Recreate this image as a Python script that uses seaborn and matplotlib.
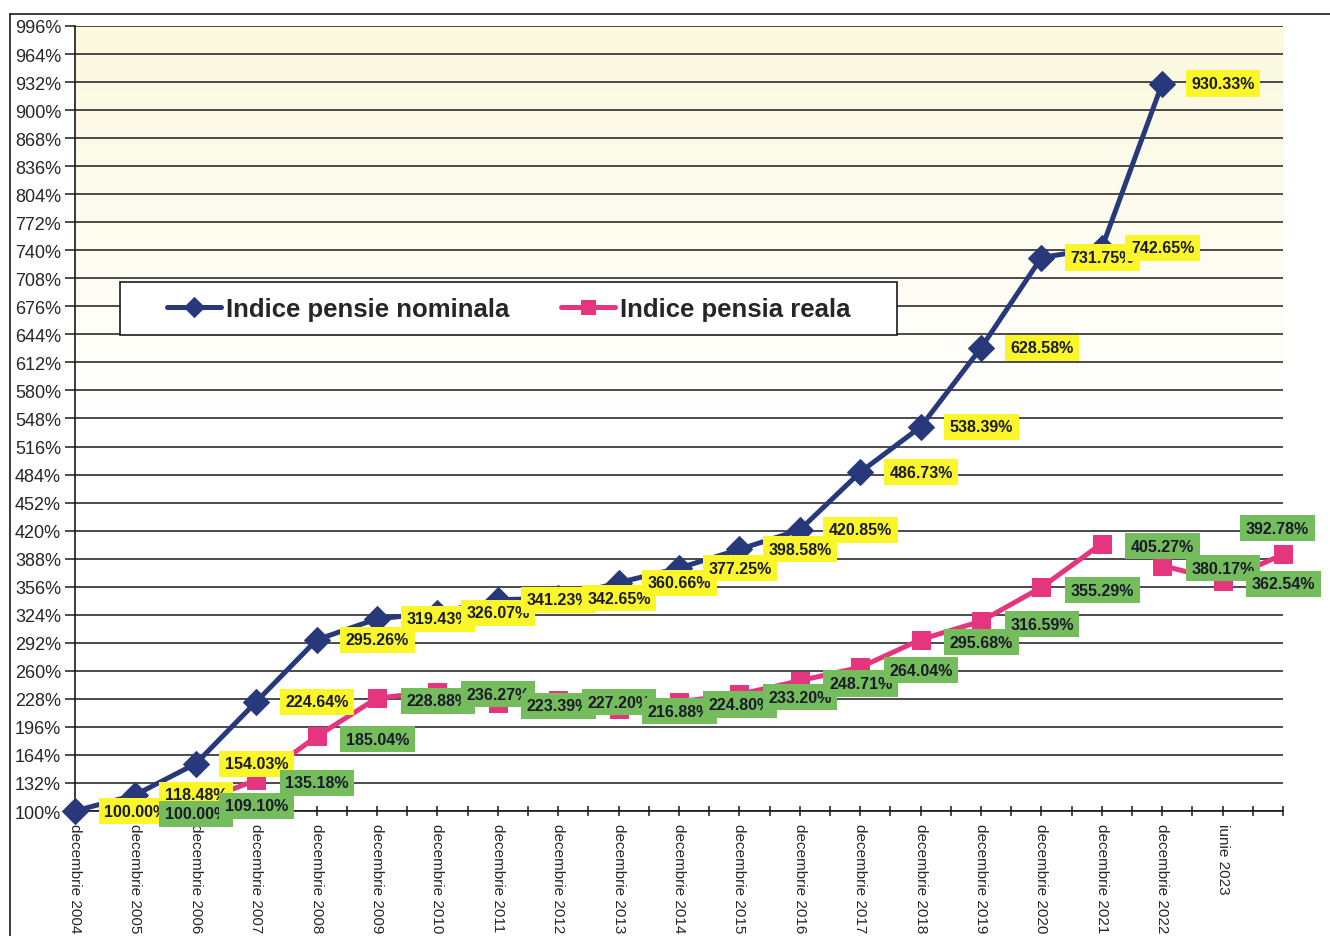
import matplotlib
matplotlib.use("Agg")
import matplotlib.pyplot as plt
import numpy as np
import seaborn as sns
from matplotlib.colors import LinearSegmentedColormap
from matplotlib.lines import Line2D
from matplotlib.patches import Rectangle
from matplotlib.ticker import FuncFormatter

# ── Data ─────────────────────────────────────────────────────────────────────

categories = [f"decembrie {y}" for y in range(2004, 2023)] + ["iunie 2023", ""]

nominal = [100.00, 118.48, 154.03, 224.64, 295.26, 319.43, 326.07, 341.23,
           342.65, 360.66, 377.25, 398.58, 420.85, 486.73, 538.39, 628.58,
           731.75, 742.65, 930.33]
nominal_x = list(range(len(nominal)))

real = [100.00, 109.10, 135.18, 185.04, 228.88, 236.27, 223.39, 227.20,
        216.88, 224.80, 233.20, 248.71, 264.04, 295.68, 316.59, 355.29,
        405.27, 380.17, 362.54, 392.78]
real_x = list(range(1, len(real) + 1))
real_break = 17   # line is not joined between 405.27% and 380.17%

y_ticks = list(range(100, 997, 32))

NAVY = "#27397A"
PINK = "#E5357F"
YELLOW = "#FAF62A"
GREEN = "#74BC5C"
TXT = "#1b1b2b"

# ── Style ────────────────────────────────────────────────────────────────────

sns.set_style("white")
plt.rcParams["font.family"] = ["Liberation Sans", "DejaVu Sans"]

fig = plt.figure(figsize=(13.3, 9.37), dpi=100)
ax = fig.add_axes([0.0564, 0.1334, 0.9083, 0.8378])

# plot area fill: pale yellow at the top, fading to white
grad = np.linspace(0, 1, 256).reshape(-1, 1)
bg = LinearSegmentedColormap.from_list(
    "bg", [(0, "#FFFFFF"), (0.5, "#FFFFFF"), (1, "#FCF9DE")])
ax.imshow(grad, extent=[0, 1, 0, 1], transform=ax.transAxes, origin="lower",
          aspect="auto", cmap=bg, zorder=0)

# ── Lines ────────────────────────────────────────────────────────────────────

line_kw = dict(linewidth=3.6, markersize=13, clip_on=False)

sns.lineplot(x=real_x[:real_break], y=real[:real_break], ax=ax, color=PINK,
             marker="s", markeredgecolor=PINK, label="Indice pensia reala",
             zorder=3, **line_kw)
sns.lineplot(x=real_x[real_break:], y=real[real_break:], ax=ax, color=PINK,
             marker="s", markeredgecolor=PINK, zorder=3, legend=False,
             **line_kw)
sns.lineplot(x=nominal_x, y=nominal, ax=ax, color=NAVY, marker="D",
             markeredgecolor=NAVY, label="Indice pensie nominala", zorder=4,
             **line_kw)

# ── Data labels ──────────────────────────────────────────────────────────────

def put_label(x, v, color, offset=(21, 0), ha="left"):
    ax.annotate(f"{v:.2f}%", (x, v), xytext=offset, textcoords="offset points",
                ha=ha, va="center", fontsize=11.5, fontweight="bold", color=TXT,
                bbox=dict(boxstyle="square,pad=0.35", fc=color, ec="none"),
                zorder=6, annotation_clip=False)

for x, v in zip(nominal_x, nominal):
    put_label(x, v, YELLOW)

for i, (x, v) in enumerate(zip(real_x, real)):
    if i == len(real) - 1:
        put_label(x, v, GREEN, offset=(-4, 19), ha="center")
    else:
        put_label(x, v, GREEN, offset=(21, -2))

# ── Axes ─────────────────────────────────────────────────────────────────────

ax.set_xlim(0, len(categories) - 1)
ax.set_ylim(100, 996)
ax.set_yticks(y_ticks)
ax.yaxis.set_major_formatter(FuncFormatter(lambda v, _: f"{int(v)}%"))
ax.yaxis.grid(True, color="#1a1a1a", linewidth=1.1)
ax.xaxis.grid(False)

ax.set_xticks(range(len(categories)))
ax.set_xticklabels(categories, rotation=270, fontsize=11)
ax.set_xticks(np.arange(0.5, len(categories) - 1, 1.0), minor=True)
ax.tick_params(axis="x", which="both", direction="inout", length=7,
               width=1.1, color="#1a1a1a", pad=5, bottom=True)
ax.tick_params(axis="y", direction="out", length=7, width=1.1,
               color="#1a1a1a", labelsize=13, pad=3, left=True)
ax.set_xlabel("")
ax.set_ylabel("")

for side in ("top", "right"):
    ax.spines[side].set_visible(False)
for side in ("left", "bottom"):
    ax.spines[side].set_color("#1a1a1a")
    ax.spines[side].set_linewidth(1.2)

# legend: white box drawn separately so the side padding can be wider
ax.add_patch(Rectangle((0.0373, 0.6064), 0.6432, 0.0675, transform=ax.transAxes,
                       fc="white", ec="#1a1a1a", lw=1.2, zorder=6.5,
                       clip_on=False))
handles, labels = ax.get_legend_handles_labels()
leg = ax.legend(handles=handles[::-1], labels=labels[::-1],
                loc="center", bbox_to_anchor=(0.359, 0.640), ncol=2,
                prop={"weight": "bold", "size": 18.5}, frameon=False,
                handlelength=2.1, handletextpad=0.2, columnspacing=2.0,
                markerscale=0.8)
leg.set_zorder(7)

# outer chart border (left and top edges)
fig.add_artist(Line2D([0.0075, 0.0075], [0, 1 - 15 / 937], color="#1a1a1a",
                      linewidth=1.2, transform=fig.transFigure))
fig.add_artist(Line2D([0.0075, 1], [1 - 15 / 937] * 2, color="#1a1a1a",
                      linewidth=1.2, transform=fig.transFigure))

fig.savefig("out.png", dpi=100)
plt.close("all")
